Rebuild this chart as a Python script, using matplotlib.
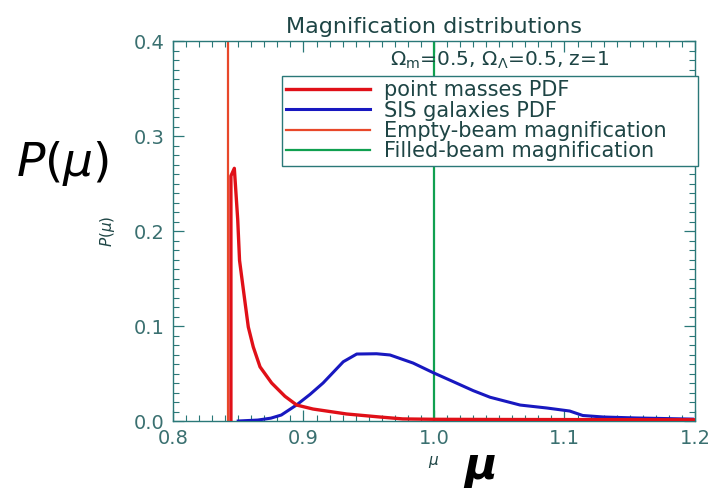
import numpy as np
import matplotlib
matplotlib.use('Agg')
import matplotlib.pyplot as plt
from matplotlib.ticker import MultipleLocator

# point masses PDF
mu_pm = [0.8444, 0.8444, 0.847, 0.8496, 0.851, 0.855, 0.8577, 0.8615, 0.8667, 0.8756,
         0.8858, 0.8948, 0.9073, 0.933, 0.9586, 0.976, 1.0, 1.05, 1.1, 1.15, 1.2]
p_pm = [0.0, 0.258, 0.266, 0.212, 0.169, 0.127, 0.099, 0.078, 0.057, 0.040,
        0.026, 0.0168, 0.0126, 0.0074, 0.0042, 0.0022, 0.0018, 0.0016, 0.0015, 0.0014, 0.0013]

# SIS galaxies PDF
mu_sis = [0.850, 0.865, 0.875, 0.883, 0.8948, 0.905, 0.915, 0.9305, 0.9408, 0.956,
          0.9663, 0.984, 0.9995, 1.0148, 1.030, 1.043, 1.066, 1.0864, 1.104, 1.114,
          1.130, 1.155, 1.198]
p_sis = [0.0, 0.001, 0.003, 0.0063, 0.017, 0.028, 0.040, 0.0624, 0.0705, 0.0708,
         0.0695, 0.061, 0.0508, 0.0414, 0.032, 0.025, 0.0168, 0.0137, 0.0105, 0.0058,
         0.0042, 0.0032, 0.002]

mu_empty = 0.8421
mu_filled = 1.0

axc = '#2a7878'
txc = '#1e4545'

fig = plt.figure(figsize=(7.19, 4.96), dpi=100)
ax = fig.add_axes([0.2406, 0.1512, 0.726, 0.7661])

ax.plot(mu_pm, p_pm, color='#e01018', lw=2.4, label='point masses PDF', zorder=4)
ax.plot(mu_sis, p_sis, color='#1818c0', lw=2.2, label='SIS galaxies PDF', zorder=3)
ax.axvline(mu_empty, color='#e8482a', lw=1.6, label='Empty-beam magnification', zorder=2)
ax.axvline(mu_filled, color='#10a050', lw=1.6, label='Filled-beam magnification', zorder=2)

ax.set_xlim(0.8, 1.2)
ax.set_ylim(0.0, 0.4)
ax.xaxis.set_major_locator(MultipleLocator(0.1))
ax.xaxis.set_minor_locator(MultipleLocator(0.01))
ax.yaxis.set_major_locator(MultipleLocator(0.1))
ax.yaxis.set_minor_locator(MultipleLocator(0.01))
ax.xaxis.set_major_formatter(lambda v, p: '%.1f' % v)
ax.yaxis.set_major_formatter(lambda v, p: '%.1f' % v)
ax.tick_params(which='both', direction='in', top=True, right=True, colors=axc,
               labelcolor='#3a7070', labelsize=14)
ax.tick_params(which='major', length=8, width=0.9, pad=6)
ax.tick_params(which='minor', length=4, width=0.8)
for s in ax.spines.values():
    s.set_color(axc)
    s.set_linewidth(1.0)

ax.set_title('Magnification distributions', fontsize=16, color=txc, pad=6)
ax.set_xlabel(r'$\mu$', fontsize=11, color=txc, labelpad=4)
ax.set_ylabel(r'$P(\mu)$', fontsize=11, color=txc, labelpad=12)

ax.text(1.05, 0.38, r'$\Omega_\mathrm{m}$=0.5, $\Omega_\Lambda$=0.5, z=1', fontsize=14.5,
        color=txc, ha='center', va='center')

leg = ax.legend(loc='lower left', bbox_to_anchor=(0.209, 0.672, 0.797, 0.2), mode='expand',
                fontsize=15, handlelength=4.0, handletextpad=0.7, labelspacing=0.02,
                borderpad=0.2, borderaxespad=0, fancybox=False, framealpha=1,
                edgecolor=axc)
leg.get_frame().set_linewidth(1.0)
for t in leg.get_texts():
    t.set_color(txc)
leg.set_zorder(5)

# handwritten annotations in the scan
fig.text(0.087, 0.67, r'$P(\mu)$', fontsize=34, color='black', ha='center', va='center')
fig.text(0.668, 0.06, 'μ', fontsize=32, color='black', ha='center', va='center',
         weight='bold', style='italic')

fig.savefig('out.png', dpi=100)
